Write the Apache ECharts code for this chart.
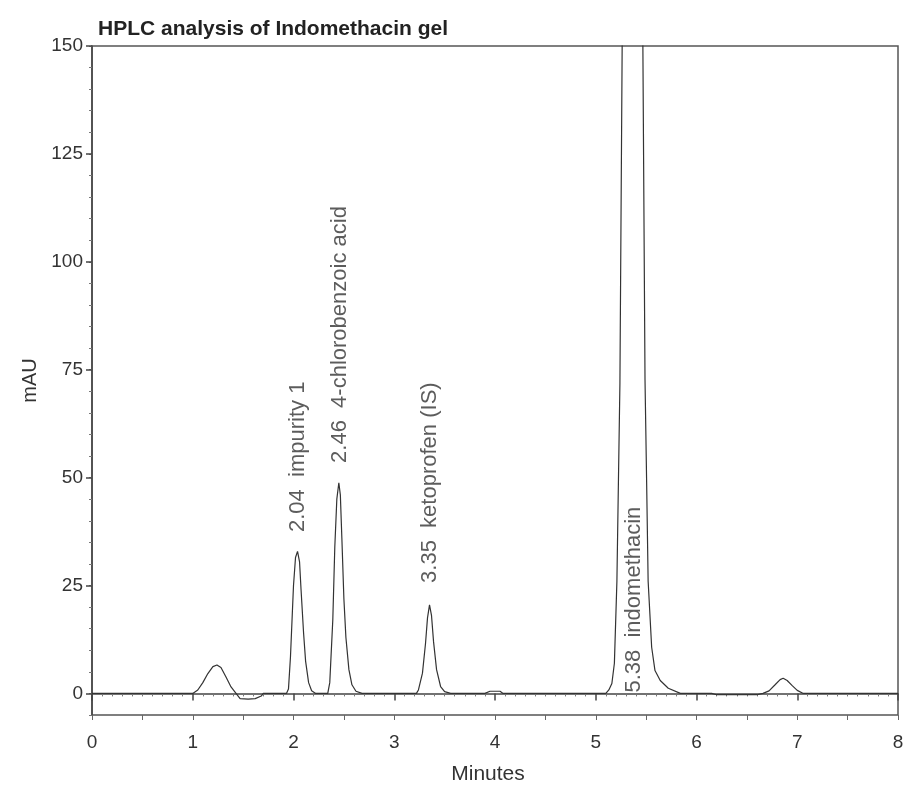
<!DOCTYPE html>
<html>
<head>
<meta charset="utf-8">
<script src="https://cdn.jsdelivr.net/npm/echarts@6/dist/echarts.min.js"></script>
<style>html,body{margin:0;padding:0;background:#fff}#c{width:905px;height:787px}</style>
</head>
<body>
<div id="c"></div>
<script>
// Chromatogram trace
var timeMin = [0, 1.00, 1.05, 1.10, 1.15, 1.20, 1.24, 1.28, 1.33, 1.38, 1.42, 1.47, 1.55, 1.62, 1.68, 1.70,
  1.93, 1.95, 1.97, 2.00, 2.02, 2.04, 2.06, 2.075, 2.10, 2.12, 2.15, 2.18, 2.22,
  2.34, 2.36, 2.39, 2.41, 2.43, 2.45, 2.465, 2.48, 2.50, 2.52, 2.55, 2.58, 2.62, 2.68,
  3.22, 3.24, 3.28, 3.31, 3.33, 3.35, 3.37, 3.39, 3.42, 3.46, 3.50, 3.56,
  3.90, 3.95, 4.05, 4.08,
  5.10, 5.13, 5.16, 5.185, 5.21, 5.24, 5.265, 5.38, 5.465, 5.489, 5.505, 5.52, 5.555, 5.588, 5.64, 5.72, 5.84,
  6.15, 6.20, 6.60, 6.66, 6.72, 6.78, 6.83, 6.86, 6.90, 6.95, 7.00, 7.06, 8.00];
var absorbance = [0, 0, 0.8, 2.5, 4.6, 6.2, 6.6, 6.0, 3.8, 1.5, 0.3, -1.2, -1.3, -1.2, -0.6, 0,
  0, 1.0, 8.5, 25, 31.5, 32.9, 30.5, 24, 14, 7.5, 2.5, 0.6, 0,
  0, 2.5, 17, 34, 45, 48.8, 46, 36, 22, 13, 5.5, 2, 0.5, 0,
  0, 0.8, 4.7, 11.5, 17.5, 20.5, 18, 12, 5.5, 1.6, 0.4, 0,
  0, 0.5, 0.5, 0,
  0, 0.8, 2.3, 7, 26, 72, 160, 1200, 160, 72.6, 49, 26, 10.7, 5.3, 3.0, 1.2, 0,
  0, -0.3, -0.3, 0, 0.6, 2.0, 3.2, 3.5, 3.0, 1.8, 0.7, 0, 0];

// Peak annotations
var peakTimes = [2.04, 2.46, 3.35, 5.38];
var peakLabelBase = [37.4, 53.4, 25.6, 0.2];
var peakNames = ['2.04  impurity 1', '2.46  4-chlorobenzoic acid', '3.35  ketoprofen (IS)', '5.38  indomethacin'];

// Tick positions for the y axis (labels shown at multiples of 25)
var yTickValues = ['-5','0','5','10','15','20','25','30','35','40','45','50','55','60','65','70','75',
  '80','85','90','95','100','105','110','115','120','125','130','135','140','145','150'];

var trace = timeMin.map(function (t, i) { return [t, absorbance[i]]; });
var ann = peakTimes.map(function (t, i) { return { value: [t, peakLabelBase[i]], name: peakNames[i] }; });

var FONT = 'Liberation Sans, Arial, Helvetica, sans-serif';
var AX = '#444';
var TXT = '#333';

var chart = echarts.init(document.getElementById('c'), null, { renderer: 'canvas' });
chart.setOption({
  animation: false,
  backgroundColor: '#fff',
  title: {
    text: 'HPLC analysis of Indomethacin gel',
    left: 93, top: 14,
    textStyle: { fontFamily: FONT, fontSize: 21, fontWeight: 'bold', color: '#222' }
  },
  grid: {
    left: 92, right: 7, top: 46, bottom: 72,
    containLabel: false, outerBoundsMode: 'none',
    show: true, borderColor: '#555', borderWidth: 1.5, backgroundColor: 'transparent'
  },
  xAxis: [{
    type: 'value', min: 0, max: 8, interval: 1,
    name: 'Minutes', nameLocation: 'middle', nameGap: 49,
    nameTextStyle: { fontFamily: FONT, fontSize: 21, color: TXT, padding: [0, 14, 0, 0] },
    axisLine: { show: true, lineStyle: { color: AX, width: 1.5 } },
    axisTick: { show: true, inside: false, length: 7, lineStyle: { color: AX, width: 1.5 } },
    minorTick: { show: true, splitNumber: 10, length: 3, lineStyle: { color: '#777', width: 1 } },
    axisLabel: { fontFamily: FONT, fontSize: 19, color: TXT, margin: 18 },
    splitLine: { show: false }
  }, {
    type: 'value', min: 0, max: 8, interval: 0.5, position: 'bottom',
    axisLine: { show: false },
    axisTick: { show: true, length: 5, lineStyle: { color: '#666', width: 1 } },
    axisLabel: { show: false },
    splitLine: { show: false }
  }],
  yAxis: [{
    type: 'value', min: -5, max: 150, interval: 5,
    name: 'mAU', nameLocation: 'middle', nameGap: 52,
    nameTextStyle: { fontFamily: FONT, fontSize: 20, color: TXT },
    axisLine: { show: true, lineStyle: { color: AX, width: 1.5 } },
    axisTick: { show: true, length: 3, lineStyle: { color: '#777', width: 1 } },
    axisLabel: { show: false },
    splitLine: { show: false }
  }, {
    type: 'category', data: yTickValues, boundaryGap: false, position: 'left',
    axisLine: { show: false },
    axisTick: { show: true, length: 6, lineStyle: { color: AX, width: 1.5 },
      interval: function (idx, val) { return Number(val) % 25 === 0; } },
    axisLabel: { fontFamily: FONT, fontSize: 19, color: TXT, margin: 9,
      interval: function (idx, val) { return Number(val) % 25 === 0; } },
    splitLine: { show: false }
  }],
  series: [{
    type: 'line', xAxisIndex: 0, yAxisIndex: 0,
    data: trace, showSymbol: false, symbol: 'none', clip: true,
    lineStyle: { color: '#333', width: 1.2 },
    silent: true
  }, {
    type: 'scatter', xAxisIndex: 0, yAxisIndex: 0,
    data: ann, symbolSize: 1, itemStyle: { color: 'rgba(0,0,0,0)' }, silent: true,
    label: {
      show: true, position: 'inside', rotate: 90, align: 'left', verticalAlign: 'middle',
      formatter: function (p) { return p.name; },
      fontFamily: FONT, fontSize: 22, color: TXT
    }
  }]
});
</script>
</body>
</html>
